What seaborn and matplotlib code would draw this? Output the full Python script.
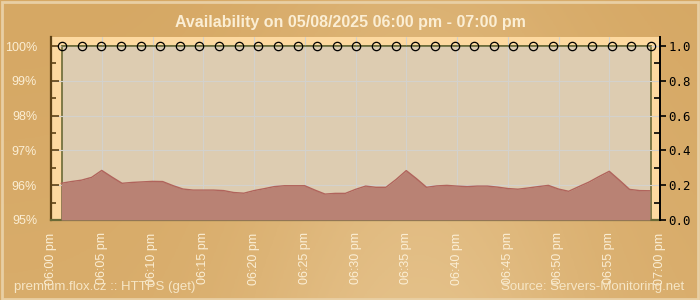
import numpy as np
import pandas as pd
import matplotlib
matplotlib.use("Agg")
import matplotlib.pyplot as plt
import seaborn as sns
from matplotlib.patches import Rectangle
from matplotlib.ticker import FixedLocator, FuncFormatter
from matplotlib.colors import LinearSegmentedColormap

# ---------------- data ----------------
title = "Availability on 05/08/2025 06:00 pm - 07:00 pm"
footer_left = "premium.flox.cz :: HTTPS (get)"
footer_right = "Source: Servers-Monitoring.net"

time_labels = ["06:00 pm", "06:05 pm", "06:10 pm", "06:15 pm", "06:20 pm",
               "06:25 pm", "06:30 pm", "06:35 pm", "06:40 pm", "06:45 pm",
               "06:50 pm", "06:55 pm", "07:00 pm"]
label_minutes = [0, 5, 10, 15, 20, 25, 30, 35, 40, 45, 50, 55, 60]

# availability checks (minutes after 06:00 pm) and result in %
check_minutes = [1.08, 3.01, 4.95, 6.88, 8.82, 10.75, 12.68, 14.62, 16.55, 18.49,
                 20.42, 22.35, 24.29, 26.22, 28.16, 30.09, 32.02, 33.96, 35.89,
                 37.83, 39.76, 41.69, 43.63, 45.56, 47.5, 49.43, 51.36, 53.3,
                 55.23, 57.17, 59.1]
availability = [100, 100, 100, 100, 100, 100, 100, 100, 100, 100, 100,
                 100, 100, 100, 100, 100, 100, 100, 100, 100, 100,
                 100, 100, 100, 100, 100, 100, 100, 100, 100, 100]

# response time (right axis), one value per minute
response_minutes = [1, 2, 3, 4, 5, 6, 7, 8, 9, 10, 11, 12, 13, 14, 15, 16, 17, 18,
                    19, 20, 21, 22, 23, 24, 25, 26, 27, 28, 29, 30, 31, 32, 33,
                    34, 35, 36, 37, 38, 39, 40, 41, 42, 43, 44, 45, 46, 47, 48,
                    49, 50, 51, 52, 53, 54, 55, 56, 57, 58, 59]
response_time = [0.211, 0.221, 0.229, 0.245, 0.285, 0.247, 0.211, 0.216, 0.219,
                 0.222, 0.221, 0.198, 0.178, 0.172, 0.172, 0.172, 0.169, 0.158,
                 0.154, 0.169, 0.180, 0.192, 0.197, 0.197, 0.197, 0.172, 0.149,
                 0.153, 0.153, 0.176, 0.195, 0.188, 0.188, 0.233, 0.284, 0.238,
                 0.188, 0.196, 0.199, 0.195, 0.192, 0.195, 0.195, 0.189, 0.181,
                 0.177, 0.184, 0.192, 0.199, 0.178, 0.165, 0.192, 0.218, 0.250,
                 0.280, 0.229, 0.176, 0.169, 0.168]

avail_df = pd.DataFrame({"minute": check_minutes, "availability": availability})
resp_df = pd.DataFrame({"minute": response_minutes, "response": response_time})

# ---------------- style ----------------
sns.set_style("white")
plt.rcParams["font.family"] = ["Liberation Sans", "DejaVu Sans"]

cream = "#fbeed4"
olive = "#6b6a36"
brown = "#5e4215"

fig = plt.figure(figsize=(7, 3), dpi=100)

# background gradient
bg = fig.add_axes([0, 0, 1, 1], zorder=-10)
bg.set_axis_off()
gx = np.linspace(0, 1, 200)
gy = np.linspace(0, 1, 100)
GX, GY = np.meshgrid(gx, gy)
grad = 0.45 * np.exp(-((GX - 0.6) ** 2) / 0.06) * (0.5 + 0.5 * GY) + 0.1 * GY
cmap = LinearSegmentedColormap.from_list("bgc", ["#d6a864", "#e4c088"])
bg.imshow(grad, cmap=cmap, aspect="auto", extent=[0, 1, 0, 1], origin="upper")
bg.set_xlim(0, 1)
bg.set_ylim(0, 1)
bg.add_patch(Rectangle((0.003, 0.005), 0.994, 0.99, transform=bg.transAxes,
                       fill=False, edgecolor="#e8cfa4", linewidth=2))

# main axes (pale frame)
ax = fig.add_axes([51 / 700, 80 / 300, 609 / 700, 183 / 300])
ax.set_facecolor("#fdd9a0")
ax.set_xlim(0, 60)
ax.set_ylim(95, 100.26)

# inner data panel
ax.add_patch(Rectangle((check_minutes[0], 95), check_minutes[-1] - check_minutes[0], 5,
                       facecolor="#ddccb1", edgecolor=olive, linewidth=1.2, zorder=0.2))

ax.set_axisbelow(True)
ax.xaxis.set_major_locator(FixedLocator(label_minutes))
ax.set_xticklabels(time_labels)
ax.xaxis.set_minor_locator(FixedLocator(response_minutes))
ax.yaxis.set_major_locator(FixedLocator([95, 96, 97, 98, 99, 100]))
ax.yaxis.set_minor_locator(FixedLocator([95.5, 96.5, 97.5, 98.5, 99.5]))
ax.yaxis.set_major_formatter(FuncFormatter(lambda v, p: f"{int(round(v))}%"))
ax.grid(True, which="major", color="#d3d1cc", linewidth=0.8)

sns.lineplot(data=avail_df, x="minute", y="availability", ax=ax, color=olive,
             linewidth=1.2, marker="o", markersize=6, markerfacecolor="none",
             markeredgecolor="black", markeredgewidth=0.9, clip_on=False, zorder=5)
ax.set_xlabel("")
ax.set_ylabel("")

for s in ["top", "right"]:
    ax.spines[s].set_visible(False)
ax.spines["left"].set_color(brown)
ax.spines["left"].set_linewidth(1.6)
ax.spines["bottom"].set_color(olive)
ax.spines["bottom"].set_linewidth(1.6)

ax.tick_params(axis="y", which="major", direction="in", length=6, width=1.2,
               color=brown, labelsize=9, labelcolor=cream, pad=10)
ax.tick_params(axis="y", which="minor", direction="in", length=3.5, width=1.2, color=brown)
ax.tick_params(axis="x", which="major", direction="in", length=5, width=1.1,
               color=olive, labelsize=9, labelcolor=cream, pad=9, labelrotation=90)
ax.tick_params(axis="x", which="minor", direction="in", length=3, width=1.1, color=olive)
for lab in ax.get_xticklabels():
    lab.set_verticalalignment("top")

# right axis: response time
ax2 = ax.twinx()
ax2.set_ylim(0, 1.052)
ax2.fill_between(resp_df["minute"], 0, resp_df["response"], color="#b98274",
                 linewidth=0, zorder=2)
sns.lineplot(data=resp_df, x="minute", y="response", ax=ax2, color="#b0645c",
             linewidth=1.0, zorder=3)
ax2.set_xlim(0, 60)
ax2.set_ylabel("")
ax2.set_xlabel("")
for s in ["top", "left", "bottom"]:
    ax2.spines[s].set_visible(False)
ax2.spines["right"].set_color("black")
ax2.spines["right"].set_linewidth(1.4)
ax2.yaxis.set_major_locator(FixedLocator([0, 0.2, 0.4, 0.6, 0.8, 1.0]))
ax2.yaxis.set_minor_locator(FixedLocator([0.1, 0.3, 0.5, 0.7, 0.9]))
ax2.yaxis.set_major_formatter(FuncFormatter(lambda v, p: f"{v:.1f}"))
ax2.tick_params(axis="y", which="major", direction="out", length=4, width=1.2,
                color="black", labelsize=9, labelcolor="black", pad=2)
ax2.tick_params(axis="y", which="minor", direction="in", length=4, width=1.2, color="black")
for lab in ax2.get_yticklabels():
    lab.set_fontfamily("DejaVu Sans Mono")

# texts
fig.text(0.5, 1 - 22 / 300, title, ha="center", va="center", fontsize=11.5,
         fontweight="bold", color=cream)
fig.text(14 / 700, 1 - 290 / 300, footer_left, ha="left", va="baseline",
         fontsize=9.5, color="#f6e6c6")
fig.text(684 / 700, 1 - 290 / 300, footer_right, ha="right", va="baseline",
         fontsize=9.5, color="#f6e6c6")

fig.savefig("out.png", dpi=100)
